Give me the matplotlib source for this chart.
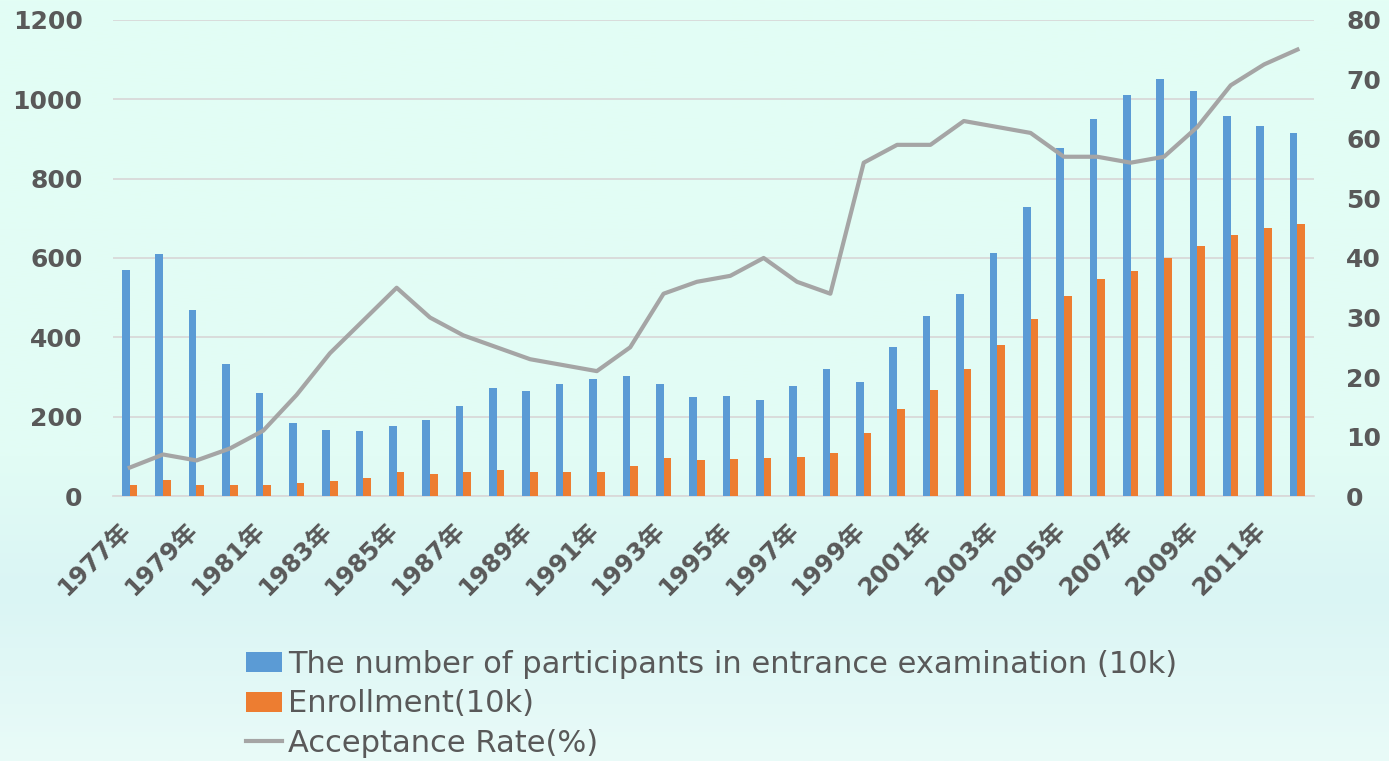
import numpy as np
import matplotlib.pyplot as plt
import matplotlib.transforms as mtransforms
from matplotlib.colors import LinearSegmentedColormap

years = [f"{y}年" for y in range(1977, 2013)]
participants = [570, 610, 468, 333, 260, 185, 167, 164, 176, 191, 228, 272,
                266, 283, 296, 302, 283, 250, 253, 241, 278, 320, 288, 375,
                454, 510, 613, 729, 877, 950, 1010, 1050, 1020, 957, 933, 915]
enrollment = [27, 40, 28, 28, 28, 32, 37, 47, 62, 57, 62, 65,
              60, 60, 62, 75, 96, 90, 93, 96, 99, 108, 160, 220,
              268, 320, 382, 447, 504, 546, 566, 599, 629, 657, 675, 685]
rate = [4.8, 7, 6, 8, 11, 17, 24, 29.5, 35, 30, 27, 25,
        23, 22, 21, 25, 34, 36, 37, 40, 36, 34, 56, 59,
        59, 63, 62, 61, 57, 57, 56, 57, 62, 69, 72.5, 75]

labels = ["The number of participants in entrance examination (10k)",
          "Enrollment(10k)", "Acceptance Rate(%)"]

BLUE = "#5B9BD5"
ORANGE = "#ED7D31"
GRAY = "#A5A5A5"
TXT = "#595959"

fig = plt.figure(figsize=(13.89, 7.61), dpi=100)

# soft mint background
bg = fig.add_axes([0, 0, 1, 1], zorder=-10)
cmap = LinearSegmentedColormap.from_list(
    "bg", [(0, "#E3FEF5"), (0.6, "#E2FCF5"), (0.78, "#DAF5F4"), (1, "#E9FBF8")])
bg.imshow(np.linspace(0, 1, 256).reshape(-1, 1), aspect="auto", cmap=cmap,
          extent=[0, 1, 1, 0])
bg.set_axis_off()

ax = fig.add_axes([0.0814, 0.348, 0.8647, 0.626])
ax.set_facecolor("none")
x = np.arange(len(years))
w = 0.23
b1 = ax.bar(x - w / 2, participants, w, color=BLUE, label=labels[0], zorder=3)
b2 = ax.bar(x + w / 2, enrollment, w, color=ORANGE, label=labels[1], zorder=3)

ax.set_xlim(-0.5, len(years) - 0.5)
ax.set_ylim(0, 1200)
ax.set_yticks(range(0, 1201, 200))
ax.grid(axis="y", color="#D9D9D9", lw=1.3, zorder=0)
for s in ["top", "left", "right"]:
    ax.spines[s].set_visible(False)
ax.spines["bottom"].set_color("#D9D9D9")
ax.spines["bottom"].set_linewidth(1.3)

ax.set_xticks(x[::2])
ax.set_xticklabels(years[::2], rotation=45, ha="right", va="top",
                   rotation_mode="anchor", fontsize=17.5, fontweight="bold",
                   color=TXT, family=["DejaVu Sans", "Noto Sans CJK SC"])
ax.tick_params(axis="x", length=0, pad=21)
# nudge the rotated labels so their ends sit at the category centre
shift = mtransforms.ScaledTranslation(-11 / 100, 7 / 100, fig.dpi_scale_trans)
for t in ax.get_xticklabels():
    t.set_transform(t.get_transform() + shift)
ax.tick_params(axis="y", length=0, pad=22, labelsize=18, labelcolor=TXT)
for t in ax.get_yticklabels():
    t.set_fontweight("bold")

ax2 = ax.twinx()
ln, = ax2.plot(x, rate, color=GRAY, lw=3, label=labels[2], zorder=4)
ax2.set_ylim(0, 80)
ax2.set_yticks(range(0, 81, 10))
ax2.tick_params(axis="y", length=0, pad=23, labelsize=18, labelcolor=TXT)
for t in ax2.get_yticklabels():
    t.set_fontweight("bold")
for s in ax2.spines.values():
    s.set_visible(False)

fig.legend([b1, b2, ln], labels, loc="upper left",
           bbox_to_anchor=(246 / 1389, 1 - 650 / 761), frameon=False,
           prop={"family": "DejaVu Sans", "size": 22}, labelcolor=TXT,
           handlelength=1.18, handleheight=0.62, handletextpad=0.2,
           labelspacing=0.34, borderpad=0, borderaxespad=0)

fig.savefig("out.png", dpi=100)
